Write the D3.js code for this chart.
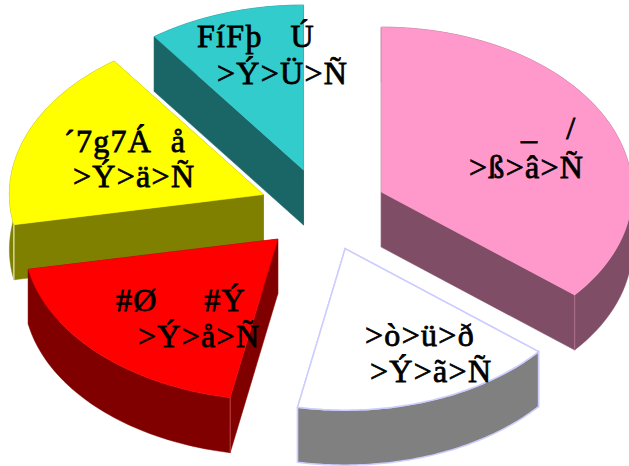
<!DOCTYPE html>
<html><head><meta charset="utf-8">
<script src="https://cdn.jsdelivr.net/npm/d3@7"></script>
<style>html,body{margin:0;padding:0;background:#fff;overflow:hidden}svg{display:block}
text{font-family:"Liberation Serif",serif;font-size:32px;font-weight:normal;white-space:pre;fill:#000;stroke:#000;stroke-width:0.8px;letter-spacing:1.3px}</style>
</head><body><div id="c"></div>
<script>
const sliceValues = [36, 17, 19, 18, 10];
const topColors = ["#FF99CC", "#FFFFFF", "#FF0000", "#FFFF00", "#33CCCC"];
const sideColors = ["#804D66", "#808080", "#800000", "#808000", "#1A6666"];
const edgeColors = ["#B07090", "#CCCCFF", "#C04040", "#FFFFE8", "#8FC0C0"];
const labelLine1 = ["_   /", ">ò>ü>ð", "#Ø     #Ý", "´7g7Á  å", "FíFþ   Ú"];
const labelLine2 = [">ß>â>Ñ", ">Ý>ã>Ñ", ">Ý>å>Ñ", ">Ý>ä>Ñ", ">Ý>Ü>Ñ"];
// label layout: [line1 x, line1 baseline, line2 x, line2 baseline]
const labelLayout = [[521,139,469,178],[365,346,370,382],[116,311,138,347],[64,152,73,187],[197,47,217,84]];
const paintOrder = [4, 3, 0, 2, 1];

const W = 629, H = 466, cx = 323.5, cy = 210, depth = 55, explode = 0.2545;
const sx = d3.scaleLinear().domain([-1, 0, 1]).range([-254, 0, 251]);
const sy = d3.scaleLinear().domain([-1, 0, 1]).range([-165, 0, 161.5]);
const svg = d3.select("#c").append("svg").attr("width", W).attr("height", H);
const arcs = d3.pie().sort(null)(sliceValues);
const line = d3.line().x(d => d[0]).y(d => d[1]);

paintOrder.forEach(i => {
  const a = arcs[i], mid = (a.startAngle + a.endAngle) / 2;
  const ox = cx + sx(explode * Math.sin(mid)), oy = cy + sy(-explode * Math.cos(mid));
  const pt = (t, dz = 0) => [ox + sx(Math.sin(t)), oy + sy(-Math.cos(t)) + dz];
  const ts = d3.range(0, 61).map(k => a.startAngle + (a.endAngle - a.startAngle) * k / 60);
  const g = svg.append("g");
  const isWhite = i === 1;
  const side = p => g.append("path").attr("d", line(p) + "Z").attr("fill", sideColors[i])
    .attr("stroke", isWhite ? edgeColors[i] : sideColors[i]).attr("stroke-width", isWhite ? 1.5 : 0.5);
  // cut walls
  side([[ox, oy], pt(a.startAngle), pt(a.startAngle, depth), [ox, oy + depth]]);
  side([[ox, oy], pt(a.endAngle), pt(a.endAngle, depth), [ox, oy + depth]]);
  // outer rim
  side(ts.map(t => pt(t)).concat(ts.slice().reverse().map(t => pt(t, depth))));
  // corner highlight
  const cornerT = i === 0 ? a.endAngle : a.startAngle;
  if (i === 0 || i === 2 || i === 3)
    g.append("path").attr("d", line([pt(cornerT), pt(cornerT, depth)])).attr("fill", "none")
      .attr("stroke", edgeColors[i]).attr("stroke-width", 1);
  // top surface
  g.append("path").attr("d", line([[ox, oy]].concat(ts.map(t => pt(t)))) + "Z")
    .attr("fill", topColors[i]).attr("stroke", isWhite ? edgeColors[i] : topColors[i])
    .attr("stroke-width", isWhite ? 1.5 : 0.5);
});

sliceValues.forEach((v, i) => {
  const l = labelLayout[i];
  svg.append("text").attr("x", l[0]).attr("y", l[1]).text(labelLine1[i]);
  svg.append("text").attr("x", l[2]).attr("y", l[3]).text(labelLine2[i]);
});
</script></body></html>
